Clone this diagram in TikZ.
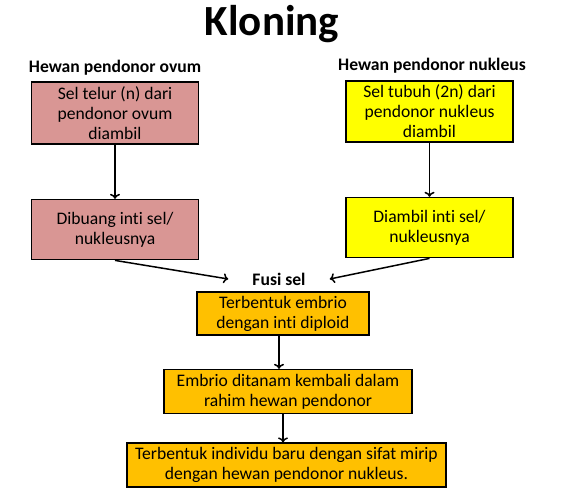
\documentclass[tikz,border=0pt]{standalone}
\usepackage{fontspec}
\setmainfont{Carlito}[Ligatures = NoCommon]
\usetikzlibrary{arrows.meta, positioning}

\begin{document}
\begin{tikzpicture}[x=1pt, y=-1pt, node distance = 54pt and 12pt]
      \definecolor{ovumred}{RGB}{217,150,148}
      \definecolor{nukleusyellow}{RGB}{255,255,0}
      \definecolor{fusiorange}{RGB}{255,192,0}
      \tikzstyle{box} = [rectangle, draw = black, line width = 1.6pt, align = center, inner sep = 2pt, font = \fontsize{17.6}{20}\selectfont]
      \tikzstyle{head} = [font = \fontsize{17.6}{20}\selectfont\bfseries]
      \tikzstyle{connect} = [-{To[length = 5pt, width = 10pt]}, line width = 1.5pt]
      \useasboundingbox (0,0) rectangle (577,502);
      \node[font = \fontsize{43}{50}\selectfont\bfseries] (judul) at (272,24) {Kloning};
      % sisi ovum
      \node[head] (hovum) at (115,68) {Hewan pendonor ovum};
      \node[box, fill = ovumred, minimum width = 167pt, minimum height = 62pt] (telur) at (115,113) {Sel telur (n) dari\\pendonor ovum\\diambil};
      \node[box, fill = ovumred, minimum width = 167pt, minimum height = 60pt, below = 54pt of telur] (buang) {Dibuang inti sel/\\nukleusnya};
      % sisi nukleus
      \node[head] (hnukleus) at (432,66) {Hewan pendonor nukleus};
      \node[box, fill = nukleusyellow, minimum width = 167pt, minimum height = 61pt] (tubuh) at (429.5,111.5) {Sel tubuh (2n) dari\\pendonor nukleus\\diambil};
      \node[box, fill = nukleusyellow, minimum width = 167pt, minimum height = 60pt, below = 54pt of tubuh] (ambil) {Diambil inti sel/\\nukleusnya};
      % fusi
      \node[head, inner xsep = 24pt] (fusi) at (279,279) {Fusi sel};
      \node[box, fill = fusiorange, minimum width = 172pt, minimum height = 43pt] (embrio) at (283,313.5) {Terbentuk embrio\\dengan inti diploid};
      \node[box, fill = fusiorange, minimum width = 248pt, minimum height = 44pt, below = 33pt of embrio, xshift = 5pt] (tanam) {Embrio ditanam kembali dalam\\rahim hewan pendonor};
      \node[box, fill = fusiorange, minimum width = 319pt, minimum height = 44pt, below = 28pt of tanam, xshift = -1.5pt] (individu) {Terbentuk individu baru dengan sifat mirip\\dengan hewan pendonor nukleus.};
      \draw[connect] (telur) -- (buang);
      \draw[connect] (tubuh) -- (ambil);
      \draw[connect] (buang.south) -- (fusi.west);
      \draw[connect] (ambil.south) -- (fusi.east);
      \draw[connect] (embrio.south -| fusi) -- (fusi |- tanam.north);
      \draw[connect] (tanam.south -| embrio) -- (embrio |- individu.north);
    \end{tikzpicture}
\end{document}
